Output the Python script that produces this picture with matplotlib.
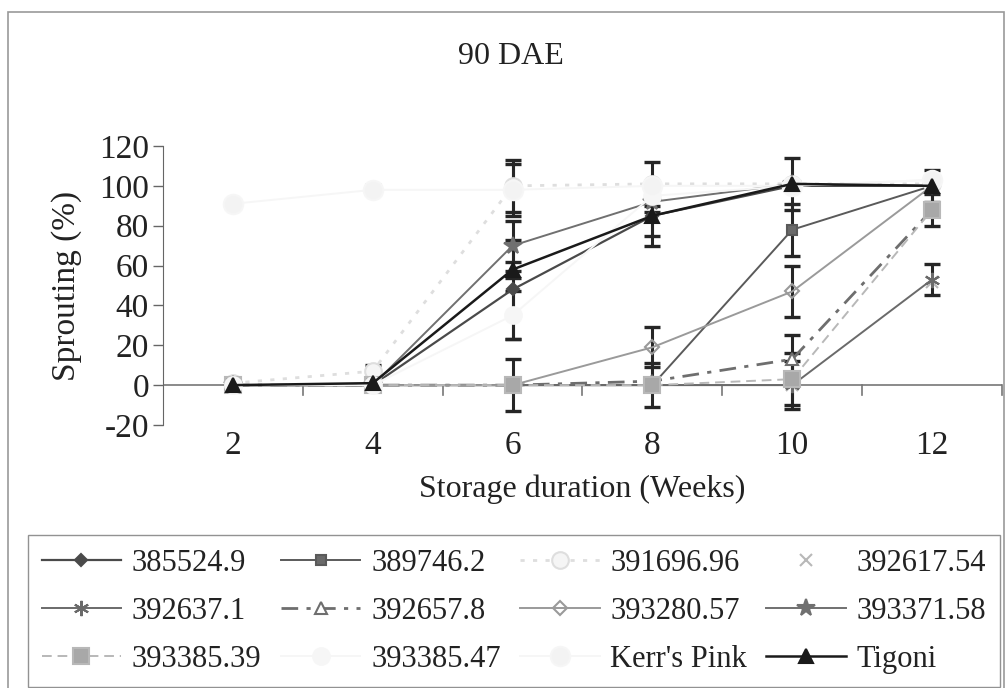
import matplotlib
matplotlib.use("Agg")
import matplotlib.pyplot as plt
from matplotlib.patches import Rectangle
import numpy as np

plt.rcParams['font.family'] = ['Liberation Serif', 'DejaVu Serif']
plt.rcParams['axes.unicode_minus'] = False

weeks = ["2", "4", "6", "8", "10", "12"]

names = ["385524.9", "389746.2", "391696.96", "392617.54",
         "392637.1", "392657.8", "393280.57", "393371.58",
         "393385.39", "393385.47", "Kerr's Pink", "Tigoni"]

v_385524_9 = [0, 0, 48, 85, 100, 100]
v_389746_2 = [0, 0, 0, 0, 78, 100]
v_391696_96 = [1, 7, 100, 101, 101, 101]
v_392617_54 = [0, 0, 0, 0, 0, 52]
v_392637_1 = [0, 0, 0, 0, 0, 53]
v_392657_8 = [0, 0, 0, 2, 13, 88]
v_393280_57 = [0, 0, 0, 19, 47, 100]
v_393371_58 = [0, 0, 70, 92, 101, 100]
v_393385_39 = [0, 0, 0, 0, 3, 88]
v_393385_47 = [0, 0, 35, 95, 100, 103]
v_kerrs_pink = [91, 98, 98, 100, 100, 103]
v_tigoni = [0, 1, 58, 85, 101, 100]

e_385524_9 = [0, 0, 25, 15, 0, 0]
e_389746_2 = [0, 0, 0, 0, 13, 0]
e_391696_96 = [2.5, 3, 13, 11, 0, 0]
e_392617_54 = [0, 0, 0, 0, 0, 0]
e_392637_1 = [0, 0, 0, 0, 12, 8]
e_392657_8 = [0, 0, 0, 0, 12, 0]
e_393280_57 = [0, 0, 0, 10, 13, 0]
e_393371_58 = [0, 0, 12.5, 5, 0, 0]
e_393385_39 = [0, 0, 13, 11, 13, 8]
e_393385_47 = [0, 0, 12, 0, 0, 0]
e_kerrs_pink = [2, 2.3, 13, 0, 0, 0]
e_tigoni = [1, 1, 4, 10, 13, 8]

values = [v_385524_9, v_389746_2, v_391696_96, v_392617_54, v_392637_1, v_392657_8,
          v_393280_57, v_393371_58, v_393385_39, v_393385_47, v_kerrs_pink, v_tigoni]
errors = [e_385524_9, e_389746_2, e_391696_96, e_392617_54, e_392637_1, e_392657_8,
          e_393280_57, e_393371_58, e_393385_39, e_393385_47, e_kerrs_pink, e_tigoni]

styles = [
    dict(color='#4a4a4a', ls='-', marker='D', ms=6, mfc='#4a4a4a', lw=1.6),
    dict(color='#5a5a5a', ls='-', marker='s', ms=7, mfc='#6a6a6a', lw=1.4),
    dict(color='#dedede', ls=(0, (1.5, 3)), marker='o', ms=12, mfc='#f5f5f5', lw=2.0),
    dict(color='#b8b8b8', ls='none', marker='x', ms=9, mfc='none', lw=1.2),
    dict(color='#6a6a6a', ls='-', marker=(6, 2, 0), ms=11, mfc='#6a6a6a', lw=1.4),
    dict(color='#6e6e6e', ls=(0, (6, 3, 1.5, 3)), marker='^', ms=8, mfc='white', lw=2.0),
    dict(color='#9a9a9a', ls='-', marker='D', ms=7, mfc='none', lw=1.4),
    dict(color='#707070', ls='-', marker='*', ms=13, mfc='#707070', lw=1.4),
    dict(color='#b8b8b8', ls=(0, (5, 3)), marker='s', ms=11, mfc='#a8a8a8', lw=1.4),
    dict(color='#f6f6f6', ls='-', marker='o', ms=12, mfc='#f6f6f6', lw=1.4),
    dict(color='#f6f6f6', ls='-', marker='o', ms=14, mfc='#f3f3f3', lw=1.4),
    dict(color='#1a1a1a', ls='-', marker='^', ms=10, mfc='#1a1a1a', lw=1.8),
]

fig = plt.figure(figsize=(10.07, 6.88), dpi=100)
ax = fig.add_axes([163/1007, 1-425/688, 839/1007, 279/688])

x = np.arange(len(weeks))
handles = []
for name, v, e, st in zip(names, values, errors, styles):
    e_arr = np.array(e, dtype=float)
    mask = e_arr > 0
    ax.errorbar(x[mask], np.array(v)[mask], yerr=e_arr[mask], fmt='none',
                ecolor='#262626', elinewidth=2.2, capsize=6, capthick=2.4, zorder=2)
    h, = ax.plot(x, v, color=st['color'], ls=st['ls'], lw=st['lw'],
                 marker=st['marker'], ms=st['ms'], mfc=st['mfc'],
                 mec=st['color'], mew=1.5, label=name, zorder=3)
    handles.append(h)

ax.set_xlim(-0.5, len(weeks) - 0.5)
ax.set_ylim(-20, 120)
ax.set_yticks(np.arange(-20, 121, 20))
ax.set_xticks(x)
ax.set_xticklabels(weeks)
ax.tick_params(axis='x', length=0, labelsize=24, pad=4, colors='#222222')
ax.tick_params(axis='y', length=7, width=1, direction='out', labelsize=24,
               pad=3, colors='#222222', color='#666666')
for s in ['top', 'right', 'bottom']:
    ax.spines[s].set_visible(False)
ax.spines['left'].set_color('#666666')
ax.axhline(0, color='#777777', lw=1.2, zorder=1)
for b in np.arange(-0.5, len(weeks), 1.0)[1:]:
    ax.plot([b, b], [0, -5], color='#777777', lw=1.2, clip_on=False, zorder=1)

ax.set_ylabel("Sprouting (%)", fontsize=24, color='#222222', labelpad=12)
ax.set_xlabel("Storage duration (Weeks)", fontsize=23, color='#222222', labelpad=10)
fig.text(0.507, 0.918, "90 DAE", ha='center', va='center', fontsize=23, color='#222222')

order = [0, 4, 8, 1, 5, 9, 2, 6, 10, 3, 7, 11]
leg = fig.legend([handles[i] for i in order], [names[i] for i in order],
                 ncol=4, loc='upper left',
                 bbox_to_anchor=(28/1007, 3/688, 972/1007, 150/688), mode='expand',
                 fontsize=22, frameon=True, fancybox=False, edgecolor='#777777',
                 handlelength=2.6, handletextpad=0.35, columnspacing=0.5,
                 labelspacing=0.62, borderpad=0.45, borderaxespad=0.0)
leg.get_frame().set_linewidth(1.0)
for t in leg.get_texts():
    t.set_color('#222222')

fig.patches.append(Rectangle((8/1007, -0.02), 996/1007, 1 - 12/688 + 0.02,
                             transform=fig.transFigure, fill=False,
                             edgecolor='#999999', lw=1.2))

fig.savefig("out.png", dpi=100)
